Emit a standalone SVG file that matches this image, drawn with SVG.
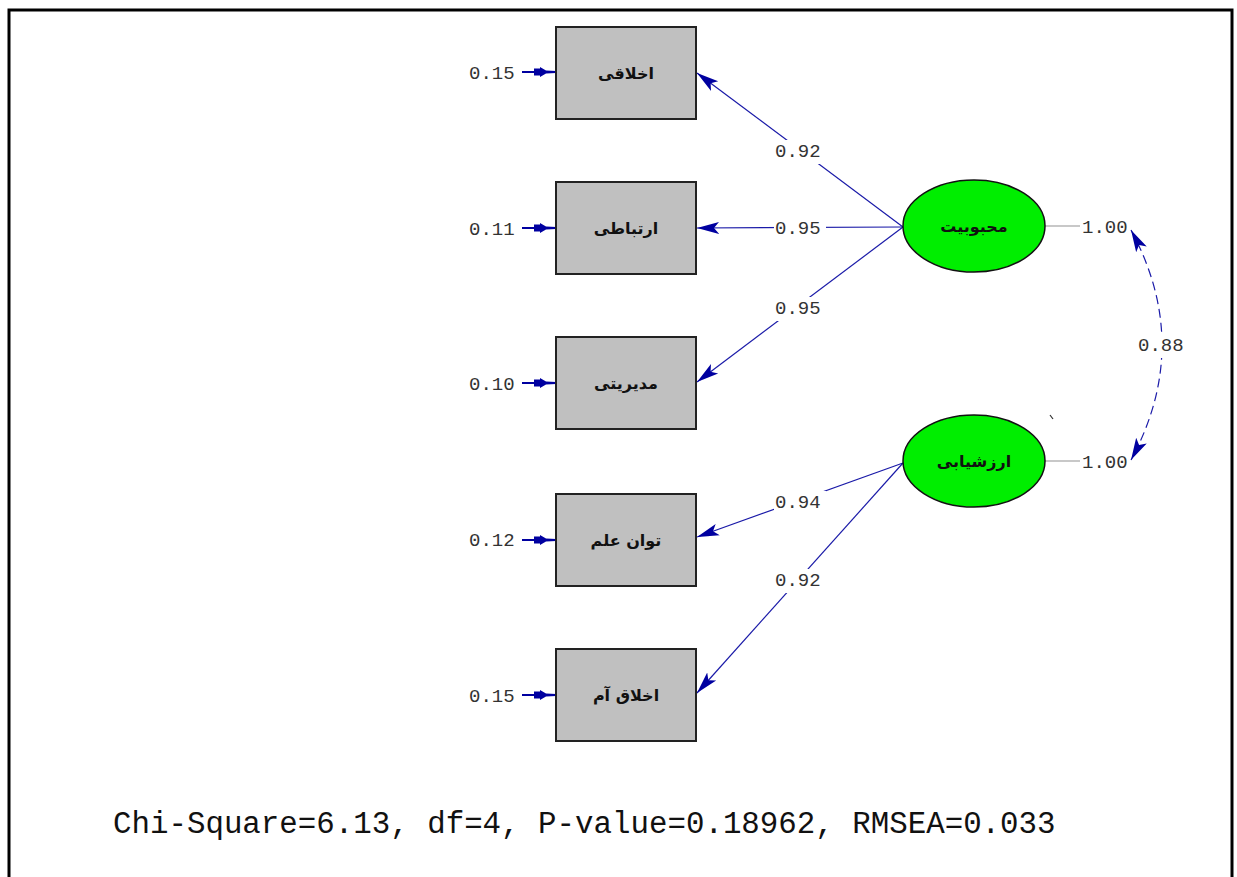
<svg xmlns="http://www.w3.org/2000/svg" width="1237" height="877" viewBox="0 0 1237 877">
<defs>
<marker id="ah" viewBox="0 0 22 14" refX="22" refY="7" markerWidth="22" markerHeight="14" markerUnits="userSpaceOnUse" orient="auto-start-reverse">
<path d="M0,1 L22,7 L0,13 L5,7 Z" fill="#0000a0"/>
</marker>
<marker id="eh" viewBox="0 0 22 10" refX="22" refY="5" markerWidth="22" markerHeight="10" markerUnits="userSpaceOnUse" orient="auto">
<path d="M0,1.5 L6,1.5 L6,0 L12,3.5 L22,4 L22,6 L12,6.5 L6,10 L6,8.5 L0,8.5 Z" fill="#0000a0"/>
</marker>
<style>
.box{fill:#c0c0c0;stroke:#222;stroke-width:2}
.ell{fill:#00ee00;stroke:#111;stroke-width:1.5}
.ar{font-family:"DejaVu Sans",sans-serif;font-weight:bold;font-size:16px;fill:#111;text-anchor:middle;dominant-baseline:central}
.num{font-family:"Liberation Mono",monospace;font-size:19px;fill:#333;dominant-baseline:central}
.path{stroke:#1a1aa8;stroke-width:1.2;fill:none}
.err{stroke:#0000a0;stroke-width:2;fill:none}
.lbg{fill:#fff}
</style>
</defs>
<rect x="9" y="10" width="1223" height="880" fill="#fff" stroke="#000" stroke-width="3"/>

<g id="connectors">
<line class="path" x1="903" y1="227" x2="697" y2="73" marker-end="url(#ah)"/>
<line class="path" x1="903" y1="227" x2="697" y2="228" marker-end="url(#ah)"/>
<line class="path" x1="903" y1="227" x2="697" y2="382" marker-end="url(#ah)"/>
<line class="path" x1="903" y1="463" x2="697" y2="537" marker-end="url(#ah)"/>
<line class="path" x1="903" y1="463" x2="697" y2="693" marker-end="url(#ah)"/>
<line class="err" x1="522" y1="72" x2="556" y2="72" marker-end="url(#eh)"/>
<line class="err" x1="522" y1="228" x2="556" y2="228" marker-end="url(#eh)"/>
<line class="err" x1="522" y1="383" x2="556" y2="383" marker-end="url(#eh)"/>
<line class="err" x1="522" y1="540" x2="556" y2="540" marker-end="url(#eh)"/>
<line class="err" x1="522" y1="695" x2="556" y2="695" marker-end="url(#eh)"/>
<line x1="1045" y1="226" x2="1080" y2="226" stroke="#c8c8c8" stroke-width="2"/>
<line x1="1045" y1="461" x2="1080" y2="461" stroke="#c8c8c8" stroke-width="2"/>
<path class="path" d="M1131,230 Q1193,345 1131,460" stroke-dasharray="9,5" marker-start="url(#ah)" marker-end="url(#ah)"/>
<line x1="1050" y1="415" x2="1053" y2="419" stroke="#333" stroke-width="1.2"/>
<rect class="lbg" x="774" y="140" width="52" height="24"/>
<rect class="lbg" x="774" y="217" width="52" height="24"/>
<rect class="lbg" x="774" y="297" width="52" height="24"/>
<rect class="lbg" x="774" y="491" width="52" height="24"/>
<rect class="lbg" x="774" y="569" width="52" height="24"/>
<rect class="lbg" x="1136" y="334" width="52" height="24"/>
<text class="num" x="775" y="152">0.92</text>
<text class="num" x="775" y="229">0.95</text>
<text class="num" x="775" y="309">0.95</text>
<text class="num" x="775" y="503">0.94</text>
<text class="num" x="775" y="581">0.92</text>
<text class="num" x="1138" y="346">0.88</text>
<text class="num" x="1082" y="228">1.00</text>
<text class="num" x="1082" y="463">1.00</text>
<text class="num" x="469" y="74">0.15</text>
<text class="num" x="469" y="230">0.11</text>
<text class="num" x="469" y="385">0.10</text>
<text class="num" x="469" y="541">0.12</text>
<text class="num" x="469" y="697">0.15</text>
</g>

<g id="n1"><rect class="box" x="556" y="27" width="140" height="92"/><text class="ar" x="626" y="73">اخلاقی</text></g>
<g id="n2"><rect class="box" x="556" y="182" width="140" height="92"/><text class="ar" x="626" y="228">ارتباطی</text></g>
<g id="n3"><rect class="box" x="556" y="337" width="140" height="92"/><text class="ar" x="626" y="383">مدیریتی</text></g>
<g id="n4"><rect class="box" x="556" y="494" width="140" height="92"/><text class="ar" x="626" y="540">توان علم</text></g>
<g id="n5"><rect class="box" x="556" y="649" width="140" height="92"/><text class="ar" x="626" y="695">اخلاق آم</text></g>
<g id="f1"><ellipse class="ell" cx="974" cy="226" rx="71" ry="46"/><text class="ar" x="974" y="226">محبوبیت</text></g>
<g id="f2"><ellipse class="ell" cx="974" cy="461" rx="71" ry="46"/><text class="ar" x="974" y="461">ارزشیابی</text></g>

<text x="113" y="833" font-family="Liberation Mono, monospace" font-size="30.8" fill="#111">Chi-Square=6.13, df=4, P-value=0.18962, RMSEA=0.033</text>
</svg>
